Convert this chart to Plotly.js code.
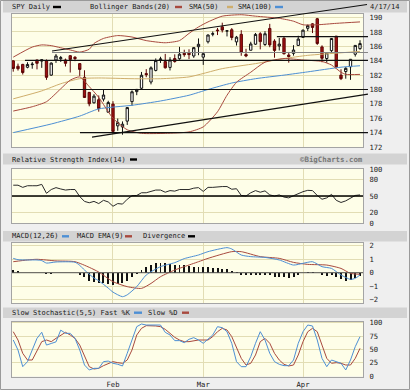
<!DOCTYPE html>
<html><head><meta charset="utf-8">
<script src="https://cdn.plot.ly/plotly-3.0.1.min.js"></script>
<style>html,body{margin:0;padding:0;background:#efefef;overflow:hidden}#chart{width:410px;height:390px}</style>
</head><body><div id="chart"></div>
<script>
// ---------- DATA ----------
const dates = ['2014-01-02','2014-01-03','2014-01-06','2014-01-07','2014-01-08','2014-01-09','2014-01-10','2014-01-13','2014-01-14','2014-01-15','2014-01-16','2014-01-17','2014-01-21','2014-01-22','2014-01-23','2014-01-24','2014-01-27','2014-01-28','2014-01-29','2014-01-30','2014-01-31',
'2014-02-03','2014-02-04','2014-02-05','2014-02-06','2014-02-07','2014-02-10','2014-02-11','2014-02-12','2014-02-13','2014-02-14','2014-02-18','2014-02-19','2014-02-20','2014-02-21','2014-02-24','2014-02-25','2014-02-26','2014-02-27','2014-02-28',
'2014-03-03','2014-03-04','2014-03-05','2014-03-06','2014-03-07','2014-03-10','2014-03-11','2014-03-12','2014-03-13','2014-03-14','2014-03-17','2014-03-18','2014-03-19','2014-03-20','2014-03-21','2014-03-24','2014-03-25','2014-03-26','2014-03-27','2014-03-28','2014-03-31',
'2014-04-01','2014-04-02','2014-04-03','2014-04-04','2014-04-07','2014-04-08','2014-04-09','2014-04-10','2014-04-11','2014-04-14','2014-04-15','2014-04-16','2014-04-17'];
const openP  = [183.98,183.23,183.49,183.09,183.45,184.11,183.95,184.00,182.00,184.10,184.28,184.10,184.70,184.48,183.60,181.69,179.60,178.15,178.58,178.66,176.84,177.97,174.94,174.79,175.60,178.31,179.70,180.17,182.21,181.04,182.65,184.15,183.88,183.07,184.30,184.28,185.04,185.05,184.66,185.95,184.50,186.64,187.69,188.27,188.72,188.13,188.31,186.62,187.67,184.87,185.46,186.30,187.75,186.26,188.49,186.73,186.05,187.12,184.79,185.02,186.13,187.25,188.51,189.13,189.84,185.92,184.31,185.40,187.42,182.00,182.50,183.16,184.90,185.68];
const highP  = [184.07,183.60,183.56,183.79,183.83,184.13,184.22,184.18,183.77,184.94,184.66,184.30,184.77,184.64,183.60,182.67,179.65,179.35,179.17,179.96,178.43,178.37,175.96,175.56,177.56,179.87,180.07,182.44,182.83,183.22,184.32,184.55,184.95,184.49,184.89,185.93,185.53,185.59,185.90,187.10,185.06,187.65,188.07,188.56,189.29,188.21,188.54,187.45,188.25,185.66,186.64,187.86,187.97,188.11,189.13,186.99,187.17,187.30,185.22,186.16,187.47,188.34,189.04,189.22,189.95,186.14,185.13,187.10,187.44,182.81,183.11,184.24,186.14,186.85];
const lowP   = [182.48,182.63,182.08,182.95,182.89,182.80,183.01,181.34,181.91,183.70,183.83,183.20,182.36,183.94,181.89,178.83,177.66,178.04,176.91,178.33,176.80,173.83,174.26,173.71,175.07,177.73,179.21,179.94,181.71,180.71,182.52,183.69,182.91,182.65,183.73,184.14,184.55,184.23,184.40,184.77,183.42,186.40,187.40,187.57,187.93,187.38,186.85,186.11,184.69,184.49,185.43,186.20,185.58,186.06,185.88,184.42,185.43,184.87,183.73,184.71,186.09,187.21,188.13,187.85,186.20,183.79,183.72,184.96,182.95,181.31,181.50,181.34,184.58,185.53];
const closeP = [182.92,182.89,182.36,183.48,183.52,183.64,184.14,181.69,183.67,184.66,184.42,183.64,184.18,184.30,182.79,178.89,178.01,179.07,177.35,179.23,178.18,174.17,175.39,175.17,177.48,179.68,180.01,181.98,182.07,183.01,184.02,184.24,183.02,184.10,183.89,184.91,184.84,184.85,185.82,186.29,184.98,187.58,187.75,188.18,188.26,188.16,187.23,187.28,185.18,184.66,186.33,187.66,186.66,187.75,186.20,185.43,186.31,184.97,184.58,185.49,187.01,188.25,188.88,188.63,186.40,184.34,185.10,187.09,183.16,181.51,182.94,184.20,186.13,186.39];

// Bollinger Bands(20), read at sample days (day number within the chart)
const bbUpperDay = [0,4,6,8,10,12,14,16,17,19,22,25,28,32,35,37,39,41,44,48,51,56,59,61,64,68,73];
const bbUpper    = [184.5,185.9,186.2,186.1,185.8,185.5,185.2,185.6,186.4,187.1,187.5,187.3,186.8,186.5,186.8,187.8,188.7,189.4,190.2,190.4,190.2,189.9,189.5,189.0,189.0,189.2,189.4];
const bbLowerDay = [0,4,7,10,12,14,16,18,21,24,27,32,37,40,43,45,47,50,53,57,61,65,67,69,70,73];
const bbLower    = [177.0,177.6,178.3,180.1,181.3,181.75,180.4,178.9,176.0,174.4,173.9,173.9,174.1,174.8,176.9,179.2,181.0,182.4,183.8,184.3,184.1,183.9,183.4,182.4,182.1,182.1];
const sma50Day   = [0,6,10,14,18,25,31,37,44,51,57,62,69,73];
const sma50      = [178.7,179.8,180.8,181.5,181.6,181.5,181.5,181.75,182.9,183.6,184.3,184.75,185.1,185.3];
const sma100Day  = [0,8,14,18,25,31,37,41,46,51,57,62,69,73];
const sma100     = [174.0,175.2,176.3,177.3,177.8,178.4,179.2,180.0,180.9,181.5,182.0,182.45,183.1,183.3];

// RSI(14), one value per day
const rsi = [70,70,66,69,69,69,71.5,55,62,65.5,63,61,62,62,49,40,37.5,40,36,42,39,31,36,35,44,50.5,51,56,56,58,61,61,57,60,59,62,62,62,64.5,65.5,58.5,66,66,67,67.5,67.5,62.5,63.5,51,50,56,60,57,59.5,52,50,52,48,46.5,50.5,55,58,60.5,60,51,44,46.5,53,42,38,41,46,51,52];

// MACD(12,26) and EMA(9), read at sample days; divergence per day
const macdDay = [0,1,3,5,6,7,9,13,14,15,17,18,20,21,23,24,26,28,31,34,36,39,41,45,46,48,50,53,56,59,61,63,65,67,69,71,72,73];
const macd    = [1.07,0.97,0.95,0.95,0.9,0.72,0.8,0.78,0.55,0.2,-0.4,-0.6,-1.15,-1.45,-1.79,-1.65,-1.04,-0.17,0.45,0.75,1.05,1.32,1.57,1.87,1.77,1.32,1.2,1.14,0.95,0.57,0.7,0.82,0.45,0.32,-0.17,-0.5,-0.42,-0.17];
const signalDay = [0,3,5,9,13,16,18,21,24,27,29,31,34,36,39,41,46,48,52,56,59,62,66,69,71,73];
const signal    = [0.82,0.95,1.0,0.88,0.82,0.4,0.05,-0.67,-1.04,-1.17,-0.8,-0.3,0.2,0.45,0.82,1.07,1.57,1.57,1.2,1.07,0.77,0.62,0.57,0.32,-0.05,-0.12];
const divergence = [0.2,0.1,0,0,0,0,0,-0.06,-0.06,0,-0.03,-0.05,-0.05,0,-0.15,-0.3,-0.6,-0.72,-0.78,-0.8,-0.82,-0.9,-0.87,-0.8,-0.6,-0.35,-0.1,0.2,0.4,0.57,0.7,0.75,0.7,0.65,0.58,0.57,0.55,0.5,0.45,0.45,0.4,0.4,0.38,0.35,0.3,0.25,0.15,0.05,-0.15,-0.2,-0.2,-0.18,-0.15,-0.15,-0.2,-0.3,-0.3,-0.35,-0.4,-0.35,-0.2,-0.05,0.02,0.02,-0.05,-0.2,-0.25,-0.2,-0.35,-0.5,-0.6,-0.55,-0.4,-0.25];

// Slow Stochastic(5,5), one value per day
const fastK = [67.5,48.8,17.5,26.9,48.8,70.6,82,58,61,64,86,80,80,70.6,48.8,20.6,11.3,14.4,14.4,26.9,28,23.8,22,18.8,42.6,67.5,92.5,97.5,95.6,95.6,95.6,95.6,81.9,76.9,66.3,66.3,62.5,68.8,71.9,67.5,61.3,68.8,76.9,92.5,90.6,83.1,61.3,26.9,17.5,17.5,36.3,61.3,83.1,67.5,42.5,26.9,21.9,19.4,19.4,30,61.3,83.1,95.6,93.8,67.5,33,17.5,30,26.9,23.8,11.3,30,55,73.8];
const slowD = [83.1,67.5,42.5,30,30,48.8,64.4,67.5,64.4,70.6,76.9,81.9,76.9,70.6,58,36.3,17.5,13.1,14.4,19.4,23.8,26.9,25,23.8,30,48.8,76.9,89.4,94.4,94.4,93.8,92.5,87.5,80,72.5,67.5,64.4,64.4,66.3,67.5,67.5,67.5,73.8,83.1,89.4,86.3,73.8,55,33.1,20.6,23.8,39.4,64.4,70.6,61.3,42.5,30,21.9,18.8,20.6,39.4,64.4,83.1,89.4,83.1,58,33.1,23.8,25,23.8,20.6,20.6,33.1,51.9];

// Drawn support / resistance lines (day number, price)
const levelPrices = [187.35,185.15,184.05,180.0,174.0];
const levelStartDay = [55.5,8.16,2.47,11.95,14.05];
const trendStart = [[8.16,185.36],[16.58,173.37]];
const trendEnd   = [[74.47,191.82],[74.68,179.35]];

const monthTickLabels = ['Feb','Mar','Apr'];
const monthFirstDates = ['2014-02-03','2014-03-03','2014-04-01'];
const priceTicks = [172,174,176,178,180,182,184,186,188,190];
const rsiTicks = [0,20,50,80,100];
const macdTicks = [-2,-1,0,1,2];
const stochTicks = [0,25,50,75,100];

// ---------- LAYOUT ----------
const W = 410, H = 390;
const X0 = 12, X1 = 363, XR = [-0.26, 73.63], LINE_END = 74.68;
const P = {price:[14,147,[172,190.5]], rsi:[169,223,[0,100]], macd:[243,303,[-2.26,2.216]], stoch:[321.5,376.5,[-0.94,102.2]]};
const day = dates.map((d,i)=>i);
const monthTicks = monthFirstDates.map(d=>dates.indexOf(d));

const FONT = 'DejaVu Sans Mono, monospace';
const GRID = '#e2ddb4', BORDER = '#a4a4a4';
const C_BB = '#a8493e', C_50 = '#cfae6c', C_100 = '#4d8fd4', C_MACD = '#4d8fd4', C_SIG = '#a8493e';

const fx = px => px / W, fy = py => 1 - py / H;
const dom = k => [fy(P[k][1]), fy(P[k][0])];
const dayX = i => fx(X0 + (i - XR[0]) / (XR[1] - XR[0]) * (X1 - X0));
const priceY = p => fy(P.price[1] - (p - P.price[2][0]) / (P.price[2][1] - P.price[2][0]) * (P.price[1] - P.price[0]));

const xBase = (show) => ({range:XR, domain:[fx(X0), fx(X1)], tickmode:'array', tickvals:monthTicks, ticktext:monthTickLabels,
  showgrid:true, gridcolor:GRID, gridwidth:1, zeroline:false, showline:true, mirror:true, linecolor:BORDER, linewidth:1,
  showticklabels:show, ticks:'', tickfont:{family:FONT, size:7.2, color:'#1a1a1a'}, fixedrange:true, rangeslider:{visible:false}});
const yBase = (k, ticks, anchor) => ({domain:dom(k), range:P[k][2], side:'right', anchor:anchor, tickmode:'array', tickvals:ticks,
  showgrid:true, gridcolor:GRID, gridwidth:1, zeroline:false, showline:true, mirror:true, linecolor:BORDER, linewidth:1,
  ticks:'outside', ticklen:4, tickcolor:'rgba(0,0,0,0)', tickfont:{family:FONT, size:7.2, color:'#1a1a1a'}, fixedrange:true});

const traces = [
  {type:'scatter', mode:'lines', x:sma100Day, y:sma100, line:{color:C_100, width:1, shape:'spline', smoothing:0.6}, xaxis:'x', yaxis:'y', hoverinfo:'skip'},
  {type:'scatter', mode:'lines', x:sma50Day, y:sma50, line:{color:C_50, width:1, shape:'spline', smoothing:0.6}, xaxis:'x', yaxis:'y', hoverinfo:'skip'},
  {type:'scatter', mode:'lines', x:bbUpperDay, y:bbUpper, line:{color:C_BB, width:1, shape:'spline', smoothing:0.6}, xaxis:'x', yaxis:'y', hoverinfo:'skip'},
  {type:'scatter', mode:'lines', x:bbLowerDay, y:bbLower, line:{color:C_BB, width:1, shape:'spline', smoothing:0.6}, xaxis:'x', yaxis:'y', hoverinfo:'skip'},
  {type:'candlestick', x:day, open:openP, high:highP, low:lowP, close:closeP, xaxis:'x', yaxis:'y',
    increasing:{line:{color:'#111111', width:1}, fillcolor:'#ffffff'},
    decreasing:{line:{color:'#5c0606', width:1}, fillcolor:'#a01010'}, whiskerwidth:0, hoverinfo:'skip'},
  {type:'scatter', mode:'lines', x:day, y:rsi, line:{color:'#2a2a2a', width:1}, xaxis:'x2', yaxis:'y2', hoverinfo:'skip'},
  {type:'bar', x:day, y:divergence, width:0.42, marker:{color:'#111111', line:{width:0}}, xaxis:'x3', yaxis:'y3', hoverinfo:'skip'},
  {type:'scatter', mode:'lines', x:signalDay, y:signal, line:{color:C_SIG, width:1, shape:'spline', smoothing:0.6}, xaxis:'x3', yaxis:'y3', hoverinfo:'skip'},
  {type:'scatter', mode:'lines', x:macdDay, y:macd, line:{color:C_MACD, width:1, shape:'spline', smoothing:0.6}, xaxis:'x3', yaxis:'y3', hoverinfo:'skip'},
  {type:'scatter', mode:'lines', x:day, y:slowD, line:{color:C_SIG, width:1}, xaxis:'x4', yaxis:'y4', hoverinfo:'skip'},
  {type:'scatter', mode:'lines', x:day, y:fastK, line:{color:C_MACD, width:1}, xaxis:'x4', yaxis:'y4', hoverinfo:'skip'}
];

const shapes = [];
// header bands
[[1,12.5],[153.5,164.5],[231,241.5],[307.5,318]].forEach(b => shapes.push({type:'rect', xref:'paper', yref:'paper', x0:fx(3), x1:fx(407), y0:fy(b[1]), y1:fy(b[0]), fillcolor:'#d3d3d3', line:{width:0}, layer:'below'}));
// outer frame
shapes.push({type:'rect', xref:'paper', yref:'paper', x0:fx(0.5), x1:fx(409.5), y0:fy(389.5), y1:fy(0.5), line:{color:'#9a9a9a', width:1}, fillcolor:'rgba(0,0,0,0)'});
// legend swatches
[[53,61,7,'#000'],[175,182,7,C_BB],[227,233,7,C_50],[275,283,7,C_100],[130,137,159.5,'#000'],[62,69,236.3,C_MACD],[125,132,236.3,C_SIG],[188,195,236.3,'#000'],[134,142,312.7,C_MACD],[182,189,312.7,C_SIG]]
  .forEach(s => shapes.push({type:'rect', xref:'paper', yref:'paper', x0:fx(s[0]), x1:fx(s[1]), y0:fy(s[2]+1.2), y1:fy(s[2]-1.2), fillcolor:s[3], line:{width:0}}));
// RSI 50 line and MACD zero line
shapes.push({type:'line', xref:'paper', yref:'y2', x0:fx(X0), x1:fx(X1), y0:50, y1:50, line:{color:'#000', width:1.5}});
shapes.push({type:'line', xref:'paper', yref:'y3', x0:fx(X0), x1:fx(X1), y0:0, y1:0, line:{color:'#555', width:1}});
// support / resistance lines
levelPrices.forEach((p,k) => shapes.push({type:'line', xref:'paper', yref:'paper', x0:dayX(levelStartDay[k]), x1:dayX(LINE_END), y0:priceY(p), y1:priceY(p), line:{color: k===1 ? '#858585' : '#111', width:1.1}}));
trendStart.forEach((s,k) => shapes.push({type:'line', xref:'paper', yref:'paper', x0:dayX(s[0]), y0:priceY(s[1]), x1:dayX(trendEnd[k][0]), y1:priceY(trendEnd[k][1]), line:{color:'#111', width:1.1}}));

const ann = (t, x, y, extra) => Object.assign({text:t, xref:'paper', yref:'paper', x:fx(x), y:fy(y), xanchor:'left', yanchor:'middle', showarrow:false, borderpad:0, borderwidth:0, font:{family:FONT, size:7, color:'#1a1a1a'}}, extra||{});
const annotations = [
  ann('SPY Daily', 12, 7), ann('Bollinger Bands(20)', 90, 7), ann('SMA(50)', 189, 7), ann('SMA(100)', 238, 7), ann('4/17/14', 370, 7),
  ann('Relative Strength Index(14)', 12, 159.5),
  ann('©BigCharts.com', 363, 159.5, {xanchor:'right', font:{family:FONT, size:7.4, color:'#777', weight:'bold'}}),
  ann('MACD(12,26)', 12, 236.3), ann('MACD EMA(9)', 77, 236.3), ann('Divergence', 143, 236.3),
  ann('Slow Stochastic(5,5) Fast %K', 12, 312.7), ann('Slow %D', 148, 312.7)
];

const layout = {
  width:W, height:H, margin:{l:0, r:0, t:0, b:0}, paper_bgcolor:'#efefef', plot_bgcolor:'#fefee8', showlegend:false,
  bargap:0, dragmode:false,
  xaxis:Object.assign(xBase(false), {anchor:'y'}),
  xaxis2:Object.assign(xBase(false), {anchor:'y2'}),
  xaxis3:Object.assign(xBase(false), {anchor:'y3'}),
  xaxis4:Object.assign(xBase(true), {anchor:'y4', ticks:'outside', ticklen:1, tickcolor:'rgba(0,0,0,0)'}),
  yaxis:yBase('price', priceTicks, 'x'),
  yaxis2:yBase('rsi', rsiTicks, 'x2'),
  yaxis3:yBase('macd', macdTicks, 'x3'),
  yaxis4:yBase('stoch', stochTicks, 'x4'),
  shapes:shapes, annotations:annotations
};
Plotly.newPlot('chart', traces, layout, {staticPlot:true, displayModeBar:false});
</script></body></html>
